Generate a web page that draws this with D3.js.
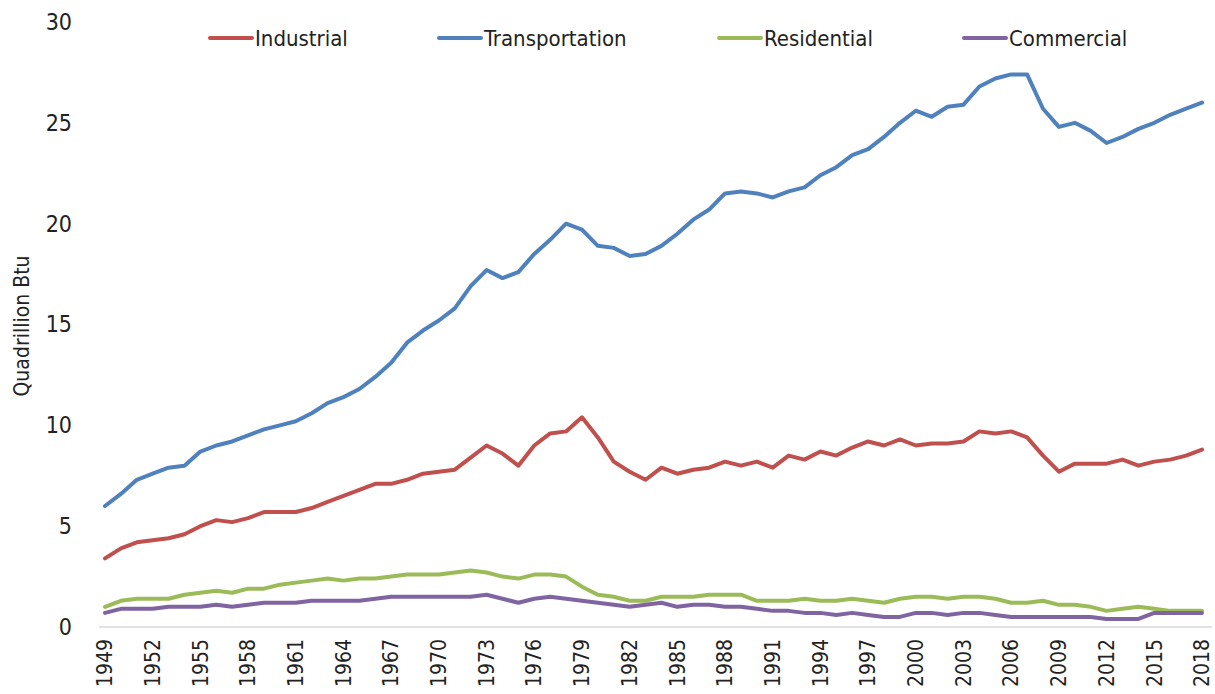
<!DOCTYPE html>
<html>
  <head>
    <style>
      body { margin: 0; padding: 0; overflow: hidden; background: #fff; }
      svg { display: block; }
      text { font-family: "DejaVu Sans Condensed", "Liberation Sans Narrow", "Roboto", sans-serif; fill: #222; }
    </style>
    <script src="https://d3js.org/d3.v7.min.js"></script>
  </head>
  <body>
    <svg width="1215" height="694"></svg>
    <script>
      const years = d3.range(1949, 2019);

      const industrial = [3.4, 3.9, 4.2, 4.3, 4.4, 4.6, 5.0, 5.3, 5.2, 5.4,
        5.7, 5.7, 5.7, 5.9, 6.2, 6.5, 6.8, 7.1, 7.1, 7.3,
        7.6, 7.7, 7.8, 8.4, 9.0, 8.6, 8.0, 9.0, 9.6, 9.7,
        10.4, 9.4, 8.2, 7.7, 7.3, 7.9, 7.6, 7.8, 7.9, 8.2,
        8.0, 8.2, 7.9, 8.5, 8.3, 8.7, 8.5, 8.9, 9.2, 9.0,
        9.3, 9.0, 9.1, 9.1, 9.2, 9.7, 9.6, 9.7, 9.4, 8.5,
        7.7, 8.1, 8.1, 8.1, 8.3, 8.0, 8.2, 8.3, 8.5, 8.8];

      const transportation = [6.0, 6.6, 7.3, 7.6, 7.9, 8.0, 8.7, 9.0, 9.2, 9.5,
        9.8, 10.0, 10.2, 10.6, 11.1, 11.4, 11.8, 12.4, 13.1, 14.1,
        14.7, 15.2, 15.8, 16.9, 17.7, 17.3, 17.6, 18.5, 19.2, 20.0,
        19.7, 18.9, 18.8, 18.4, 18.5, 18.9, 19.5, 20.2, 20.7, 21.5,
        21.6, 21.5, 21.3, 21.6, 21.8, 22.4, 22.8, 23.4, 23.7, 24.3,
        25.0, 25.6, 25.3, 25.8, 25.9, 26.8, 27.2, 27.4, 27.4, 25.7,
        24.8, 25.0, 24.6, 24.0, 24.3, 24.7, 25.0, 25.4, 25.7, 26.0];

      const residential = [1.0, 1.3, 1.4, 1.4, 1.4, 1.6, 1.7, 1.8, 1.7, 1.9,
        1.9, 2.1, 2.2, 2.3, 2.4, 2.3, 2.4, 2.4, 2.5, 2.6,
        2.6, 2.6, 2.7, 2.8, 2.7, 2.5, 2.4, 2.6, 2.6, 2.5,
        2.0, 1.6, 1.5, 1.3, 1.3, 1.5, 1.5, 1.5, 1.6, 1.6,
        1.6, 1.3, 1.3, 1.3, 1.4, 1.3, 1.3, 1.4, 1.3, 1.2,
        1.4, 1.5, 1.5, 1.4, 1.5, 1.5, 1.4, 1.2, 1.2, 1.3,
        1.1, 1.1, 1.0, 0.8, 0.9, 1.0, 0.9, 0.8, 0.8, 0.8];

      const commercial = [0.7, 0.9, 0.9, 0.9, 1.0, 1.0, 1.0, 1.1, 1.0, 1.1,
        1.2, 1.2, 1.2, 1.3, 1.3, 1.3, 1.3, 1.4, 1.5, 1.5,
        1.5, 1.5, 1.5, 1.5, 1.6, 1.4, 1.2, 1.4, 1.5, 1.4,
        1.3, 1.2, 1.1, 1.0, 1.1, 1.2, 1.0, 1.1, 1.1, 1.0,
        1.0, 0.9, 0.8, 0.8, 0.7, 0.7, 0.6, 0.7, 0.6, 0.5,
        0.5, 0.7, 0.7, 0.6, 0.7, 0.7, 0.6, 0.5, 0.5, 0.5,
        0.5, 0.5, 0.5, 0.4, 0.4, 0.4, 0.7, 0.7, 0.7, 0.7];

      const seriesNames = ['Industrial', 'Transportation', 'Residential', 'Commercial'];
      const seriesValues = [industrial, transportation, residential, commercial];
      const colors = ['#C0504D', '#4F81BD', '#9BBB59', '#8064A2'];
      const yTicks = [0, 5, 10, 15, 20, 25, 30];
      const xTickYears = d3.range(1949, 2019, 3);

      const svg = d3.select('svg');

      const x = d3.scaleLinear().domain([1949, 2018]).range([105, 1202]);
      const y = d3.scaleLinear().domain([0, 30]).range([627, 22]);

      // linea base
      svg.append('line')
        .attr('x1', 99).attr('x2', 1212)
        .attr('y1', y(0)).attr('y2', y(0))
        .attr('stroke', '#d9d9d9').attr('stroke-width', 1.5);

      // eje Y
      const yAxis = svg.append('g')
        .attr('transform', 'translate(72,0)')
        .call(d3.axisLeft(y).tickValues(yTicks).tickSize(0).tickPadding(0));
      yAxis.select('.domain').remove();
      yAxis.selectAll('text').attr('font-size', 23).attr('text-anchor', 'end');

      svg.append('text')
        .attr('transform', 'translate(29,326) rotate(-90)')
        .attr('text-anchor', 'middle')
        .attr('font-size', 21)
        .text('Quadrillion Btu');

      // eje X
      const xAxis = svg.append('g')
        .attr('transform', `translate(0,${y(0)})`)
        .call(d3.axisBottom(x).tickValues(xTickYears).tickFormat(d3.format('d')).tickSize(0));
      xAxis.select('.domain').remove();
      xAxis.selectAll('text')
        .attr('font-size', 21)
        .attr('text-anchor', 'end')
        .attr('transform', 'rotate(-90)')
        .attr('x', -12)
        .attr('y', 0)
        .attr('dy', '0.32em');

      // lineas
      const line = d3.line()
        .x((d, i) => x(years[i]))
        .y(d => y(d));

      svg.selectAll('path.series')
        .data(seriesValues)
        .enter()
        .append('path')
        .attr('class', 'series')
        .attr('fill', 'none')
        .attr('stroke', (d, i) => colors[i])
        .attr('stroke-width', 4)
        .attr('stroke-linejoin', 'round')
        .attr('stroke-linecap', 'round')
        .attr('d', line);

      // leyenda
      const legendX = [208, 437, 717, 962];
      const legend = svg.selectAll('g.legend')
        .data(seriesNames)
        .enter()
        .append('g')
        .attr('class', 'legend')
        .attr('transform', (d, i) => `translate(${legendX[i]},38)`);
      legend.append('line')
        .attr('x1', 2).attr('x2', 44)
        .attr('stroke', (d, i) => colors[i])
        .attr('stroke-width', 4)
        .attr('stroke-linecap', 'round');
      legend.append('text')
        .attr('x', 47)
        .attr('dy', '0.35em')
        .attr('font-size', 22)
        .text(d => d);
    </script>
  </body>
</html>
